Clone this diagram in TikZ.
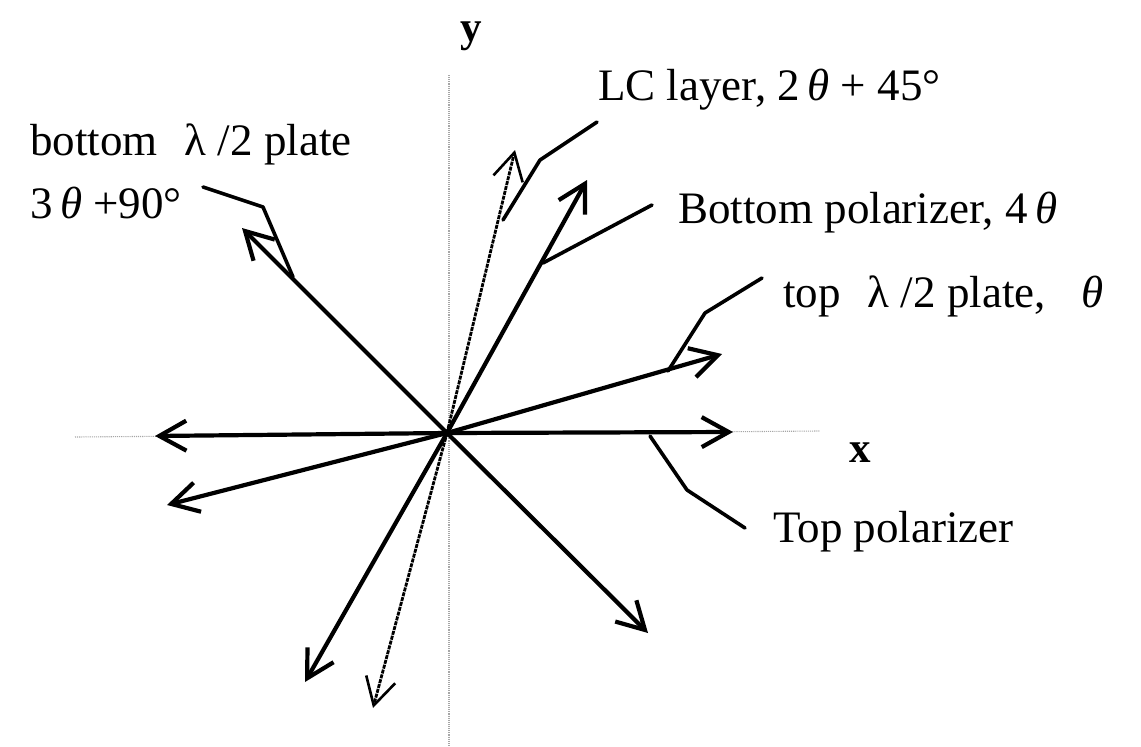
\documentclass[tikz,border=0pt]{standalone}
\usepackage{fontspec}
\setmainfont{Liberation Serif}
\usetikzlibrary{arrows.meta}
\newcommand{\thetai}{{\itshape θ}}
\begin{document}
\begin{tikzpicture}[x=1pt,y=-1pt,
  vec/.style={line width=4.2pt,-{Straight Barb[length=27pt,width=30pt]}},
  lcvec/.style={line width=2.8pt,dash pattern=on 4pt off 1pt,-{Straight Barb[length=27pt,width=30pt,line width=2.6pt]}},
  axisln/.style={gray!70,line width=1.1pt,densely dotted},
  leader/.style={line width=3.6pt,line join=round,line cap=round},
  lbl/.style={anchor=base west,inner sep=0pt,font=\fontsize{45}{50}\selectfont},
  axlbl/.style={inner sep=0pt,font=\fontsize{43}{46}\selectfont\bfseries}]
\useasboundingbox (0,0) rectangle (1141,747);
% centre
\coordinate (C) at (447,433);
% axes
\draw[axisln] (449,75) -- (449,747);
\draw[axisln] (75,437) -- (820,431);
\node[axlbl] (ylab) at (471,36) {y};
\node[axlbl] (xlab) at (860,453) {x};
% tips
\coordinate (hR) at (733,432);
\coordinate (hL) at (155,436);
\coordinate (tR) at (722,354);
\coordinate (tL) at (167,505);
\coordinate (bR) at (587,180);
\coordinate (bL) at (305,682);
\coordinate (lR) at (515,150);
\coordinate (lL) at (373,708);
\coordinate (qR) at (648,633);
\coordinate (qL) at (242,228);
% arrows
\draw[lcvec] (C) -- (lR);
\draw[lcvec] (C) -- (lL);
\draw[vec] (C) -- (hR);
\draw[vec] (C) -- (hL);
\draw[vec] (C) -- (tR);
\draw[vec] (C) -- (tL);
\draw[vec] (C) -- (bR);
\draw[vec] (C) -- (bL);
\draw[vec] (C) -- (qR);
\draw[vec] (C) -- (qL);
% labels
\node[lbl] (bl1) at (30,155) {bottom\hspace{0.6em}λ /2 plate};
\node[lbl] (bl2) at (30,218) {3\,\thetai\ +90°};
\node[lbl] (lc) at (598,100) {LC layer, 2\,\thetai\ + 45°};
\node[lbl] (bp) at (678,223) {Bottom polarizer, 4\,\thetai};
\node[lbl] (tl) at (783,307) {top\hspace{0.6em}λ /2 plate,\hspace{0.8em}\thetai};
\node[lbl] (tp) at (773,542) {Top polarizer};
% leaders
\coordinate (a1) at (203,187); \coordinate (a2) at (263,207); \coordinate (a3) at (293,277);
\draw[leader] (a1) -- (a2) -- (a3);
\coordinate (c1) at (597,122); \coordinate (c2) at (540,160); \coordinate (c3) at (503,220);
\draw[leader] (c1) -- (c2) -- (c3);
\coordinate (d1) at (652,205); \coordinate (d2) at (543,263);
\draw[leader] (d1) -- (d2);
\coordinate (e1) at (762,278); \coordinate (e2) at (705,313); \coordinate (e3) at (668,371);
\draw[leader] (e1) -- (e2) -- (e3);
\coordinate (f1) at (650,436); \coordinate (f2) at (687,490); \coordinate (f3) at (745,528);
\draw[leader] (f1) -- (f2) -- (f3);
\end{tikzpicture}
\end{document}
